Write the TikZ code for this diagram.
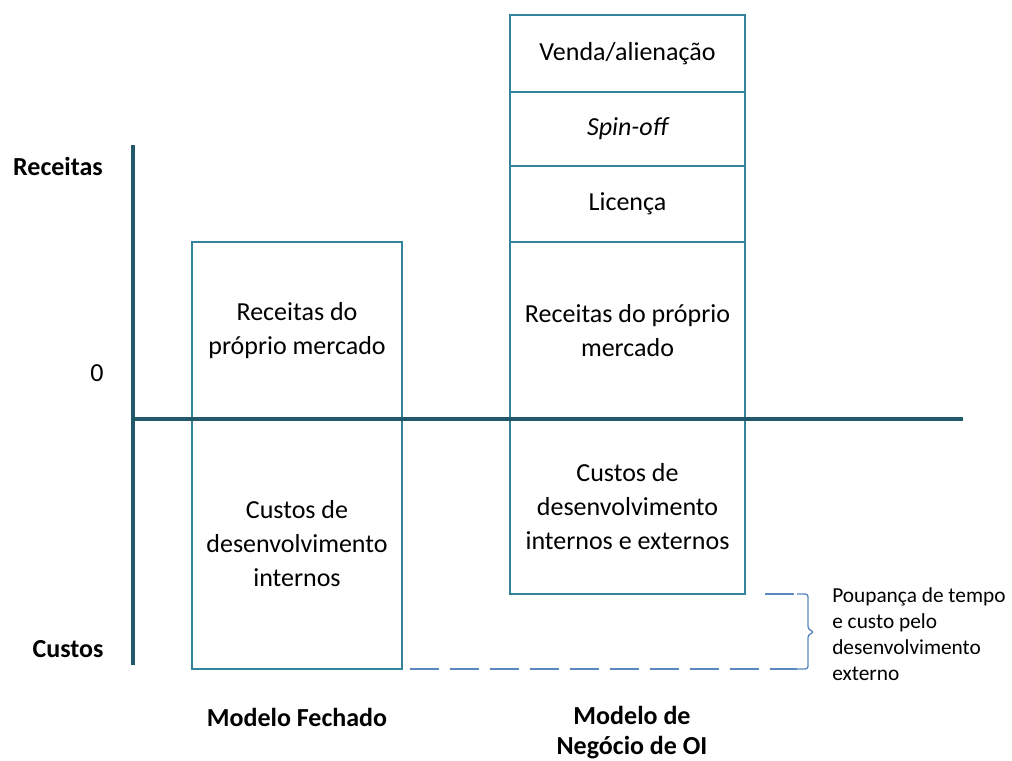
\documentclass[tikz,border=0pt]{standalone}
\usepackage{fontspec}
\setmainfont{Carlito}
\definecolor{boxteal}{HTML}{31849B}
\definecolor{axisteal}{HTML}{215968}
\definecolor{bracblue}{HTML}{5A87BE}
\tikzset{
  blk/.style={draw=boxteal, line width=2.2pt, inner sep=0pt, outer sep=0pt, align=center,
    font=\fontsize{19.5}{25.5}\selectfont},
  lbl/.style={align=center, inner sep=0pt, font=\fontsize{19.5}{22.5}\selectfont\bfseries},
  axisline/.style={axisteal, line width=3pt},
  savline/.style={bracblue, line width=1pt, dash pattern=on 22pt off 8pt}
}
\begin{document}
\begin{tikzpicture}[x=0.75pt, y=-0.75pt]
  \useasboundingbox (0,0) rectangle (1012,760);
  % closed model
  \node[blk, minimum width=157.5pt, minimum height=132.75pt] (lrev) at (297,330.5) {Receitas do\\próprio mercado};
  \node[blk, minimum width=157.5pt, minimum height=187.5pt] (lcost) at (297,544) {Custos de\\desenvolvimento\\internos};
  % open innovation model
  \node[blk, minimum width=176.25pt, minimum height=57.75pt] (venda) at (627.5,53.5) {Venda/alienação};
  \node[blk, minimum width=176.25pt, minimum height=55.5pt] (spin) at (627.5,129) {\itshape Spin-off};
  \node[blk, minimum width=176.25pt, minimum height=57pt] (lic) at (627.5,204) {Licença};
  \node[blk, minimum width=176.25pt, minimum height=132.75pt] (rrev) at (627.5,330.5) {Receitas do próprio\\mercado};
  \node[blk, minimum width=176.25pt, minimum height=131.25pt] (rcost) at (627.5,506.5) {Custos de\\desenvolvimento\\internos e externos};
  % axes
  \coordinate (ytop) at (133,145);
  \coordinate (ybot) at (133,665);
  \coordinate (xleft) at (133,419);
  \coordinate (xright) at (963,419);
  \draw[axisline] (ytop) -- (ybot);
  \draw[axisline] (xleft) -- (xright);
  \node[lbl] (rec) at (58,166) {Receitas};
  \node[lbl] (cus) at (68,649) {Custos};
  \node[font=\fontsize{19.5}{22.5}\selectfont, inner sep=0pt] (zero) at (97,373) {0};
  \node[lbl] (mfech) at (297,717) {Modelo Fechado};
  \node[lbl] (moi) at (632,733) {Modelo de\\Negócio de OI};
  % savings bracket
  \coordinate (btop) at (797,594);
  \coordinate (bbot) at (797,669);
  \draw[savline] ([xshift=15pt]rcost.south east) -- (btop);
  \draw[savline] ([xshift=6pt]lcost.south east) -- (bbot);
  \draw[bracblue, line width=1pt, rounded corners=2pt] (btop) -- (808,594) -- (808,629) -- (814,632) -- (808,635) -- (808,669) -- (bbot);
  \node[anchor=north west, align=left, inner sep=0pt, font=\fontsize{16}{19.5}\selectfont] (poup) at (832,587) {Poupança de tempo\\e custo pelo\\desenvolvimento\\externo};
\end{tikzpicture}
\end{document}
